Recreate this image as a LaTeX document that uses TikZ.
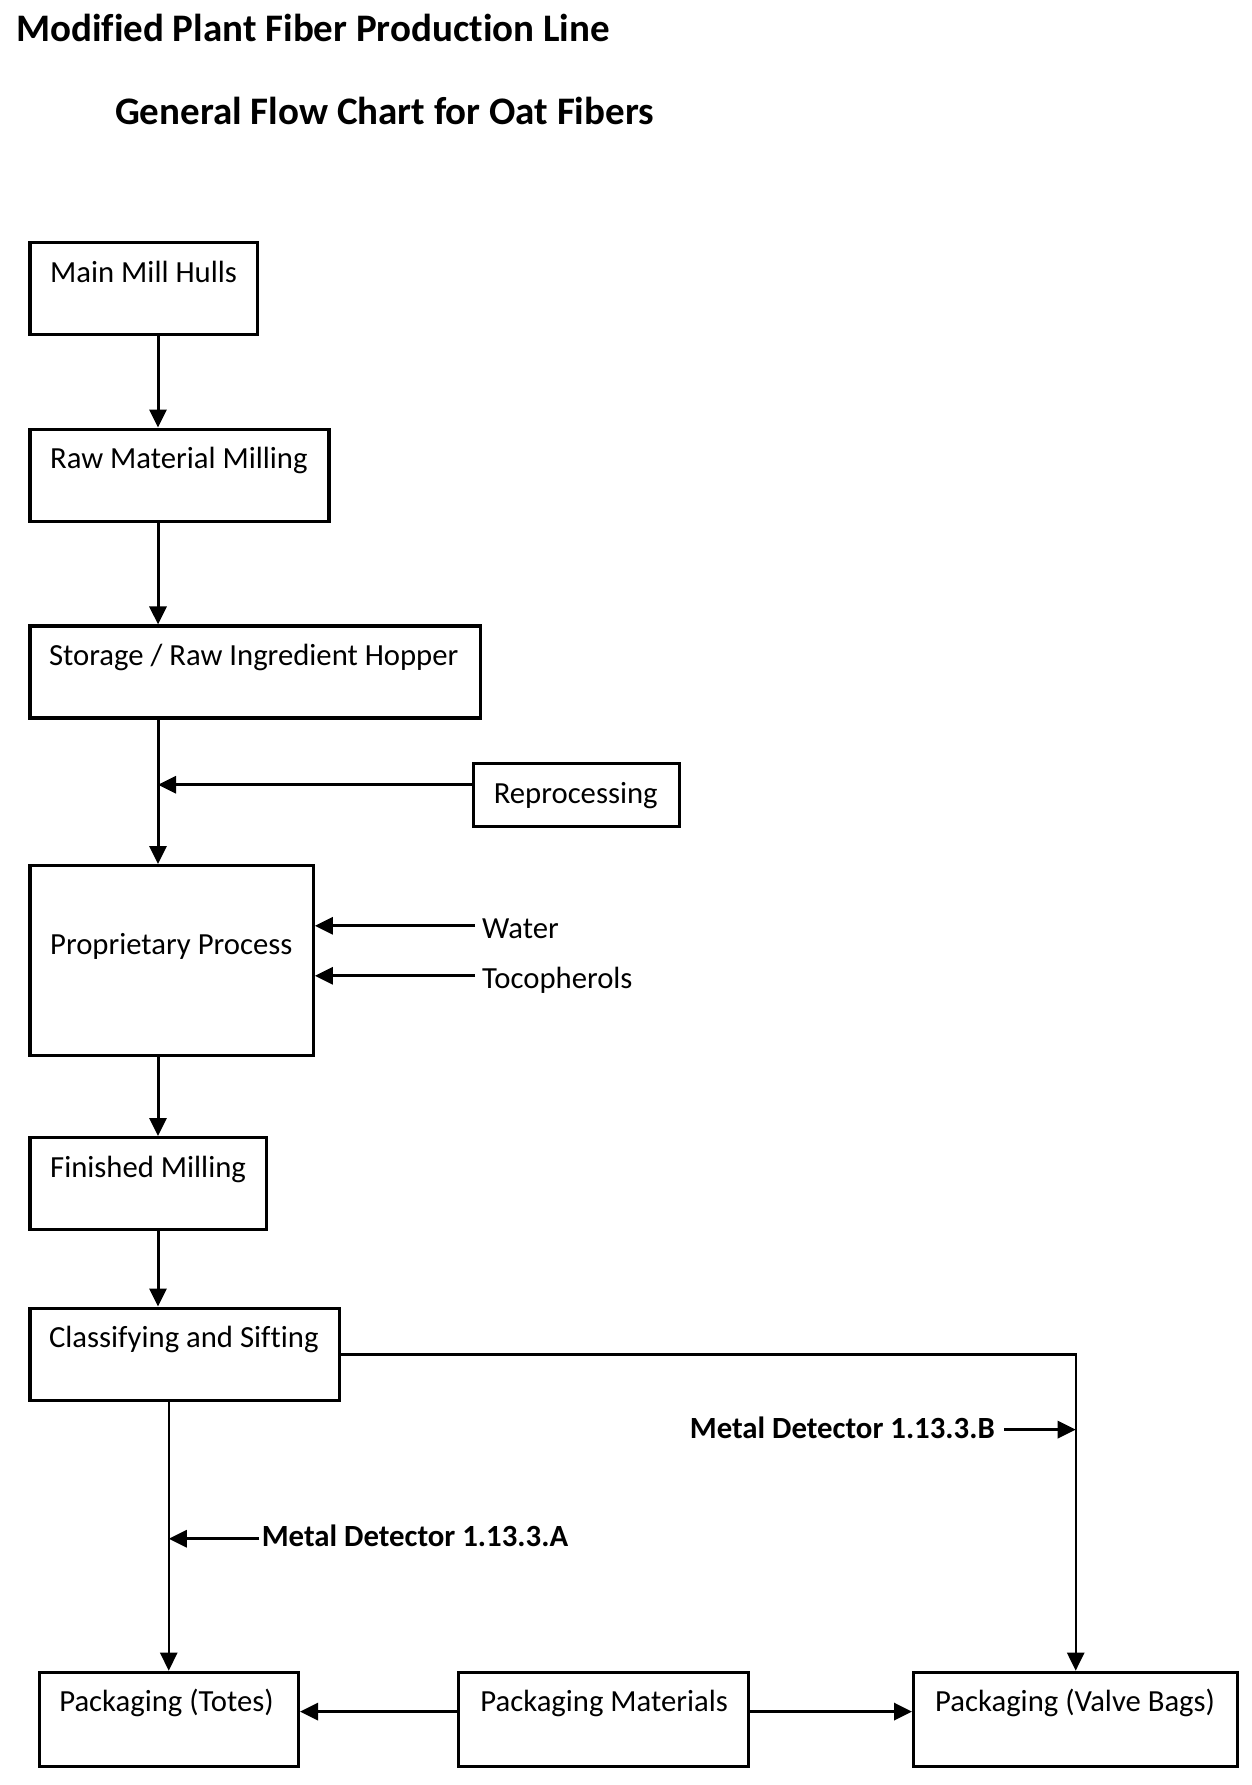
\documentclass[tikz,border=0pt]{standalone}
\usepackage{fontspec}
\setmainfont{Carlito}[Ligatures={NoCommon}]
\usetikzlibrary{arrows.meta,calc}
\begin{document}
\begin{tikzpicture}[x=1pt,y=-1pt,
 box/.style={draw, line width=3.2pt, inner sep=0pt, anchor=north west},
 lbl/.style={anchor=base west, inner sep=0pt, font=\fontsize{30.7}{36}\selectfont},
 boldlbl/.style={inner sep=0pt, font=\fontsize{30.8}{36}\selectfont\bfseries},
 ttl/.style={anchor=base west, inner sep=0pt, font=\fontsize{39}{44}\selectfont\bfseries},
 arr/.style={line width=3pt, -{Triangle[length=18pt,width=17pt]}},
 thinarr/.style={line width=2.4pt, -{Triangle[length=18pt,width=17pt]}}]
\useasboundingbox (0,0) rectangle (1251,1785);
\node[ttl] (t1) at (15.9,42) {Modified Plant Fiber Production Line};
\node[ttl] (t2) at (114.9,124) {General Flow Chart for Oat Fibers};
% boxes
\node[box, minimum width=227.5pt, minimum height=92pt] (mmh) at (28.4,241) {};
\node[box, minimum width=299pt, minimum height=92pt] (rmm) at (28.4,427.6) {};
\node[box, minimum width=450.4pt, minimum height=92pt] (sto) at (28.4,624.4) {};
\node[box, minimum width=205.8pt, minimum height=62.5pt] (rep) at (472,762) {};
\node[box, minimum width=283.2pt, minimum height=190pt] (pro) at (28.4,864) {};
\node[box, minimum width=236.6pt, minimum height=92pt] (fin) at (28.4,1136) {};
\node[box, minimum width=309.4pt, minimum height=92.4pt] (cls) at (28.4,1306.6) {};
\node[box, minimum width=259.3pt, minimum height=94.3pt] (tot) at (37.5,1670.7) {};
\node[box, minimum width=290pt, minimum height=94.3pt] (pm) at (457.2,1670.7) {};
\node[box, minimum width=324.2pt, minimum height=94.3pt] (vb) at (912,1670.7) {};
% labels
\node[lbl] (mmhT) at ($(mmh.north west)+(21.6,41)$) {Main Mill Hulls};
\node[lbl] (rmmT) at ($(rmm.north west)+(21.6,41)$) {Raw Material Milling};
\node[lbl] (stoT) at ($(sto.north west)+(20.5,41)$) {Storage / Raw Ingredient Hopper};
\node[lbl] (repT) at ($(rep.north west)+(21.6,41)$) {Reprocessing};
\node[lbl] (proT) at (50,954) {Proprietary Process};
\node[lbl] (finT) at ($(fin.north west)+(21.6,41)$) {Finished Milling};
\node[lbl] (clsT) at ($(cls.north west)+(20.5,41)$) {Classifying and Sifting};
\node[lbl] (totT) at ($(tot.north west)+(21.6,41)$) {Packaging (Totes)};
\node[lbl] (pmT) at ($(pm.north west)+(23,41)$) {Packaging Materials};
\node[lbl] (vbT) at ($(vb.north west)+(23,41)$) {Packaging (Valve Bags)};
\node[lbl] (wat) at (482,938) {Water};
\node[lbl] (toc) at (482,988) {Tocopherols};
\node[boldlbl, anchor=base west] (mda) at (261.6,1546.7) {Metal Detector 1.13.3.A};
\node[boldlbl, anchor=base east] (mdb) at (995,1438.7) {Metal Detector 1.13.3.B};
% connectors
\coordinate (spine) at (158,0);
\draw[arr] (mmh.south -| spine) -- (rmm.north -| spine);
\draw[arr] (rmm.south -| spine) -- (sto.north -| spine);
\draw[arr] (sto.south -| spine) -- (pro.north -| spine);
\draw[arr] (pro.south -| spine) -- (fin.north -| spine);
\draw[arr] (fin.south -| spine) -- (cls.north -| spine);
\coordinate (rj) at (158,784.7);
\draw[arr] (rep.west |- rj) -- (rj);
\coordinate (wa) at (475,925.8);
\coordinate (ta) at (475,975.8);
\draw[arr] (wa) -- (pro.east |- wa);
\draw[arr] (ta) -- (pro.east |- ta);
\draw[thinarr] (tot.north |- cls.south) -- (tot.north);
\draw[thinarr] (cls.east) -| (vb.north);
\coordinate (mdaS) at (259,1538.7);
\draw[arr] (mdaS) -- (tot.north |- mdaS);
\coordinate (mdbS) at (1004,1429.6);
\draw[arr] (mdbS) -- (vb.north |- mdbS);
\coordinate (hy) at (0,1711.6);
\draw[arr, line width=3.4pt] (pm.west |- hy) -- (tot.east |- hy);
\draw[arr, line width=3.4pt] (pm.east |- hy) -- (vb.west |- hy);
\end{tikzpicture}
\end{document}
